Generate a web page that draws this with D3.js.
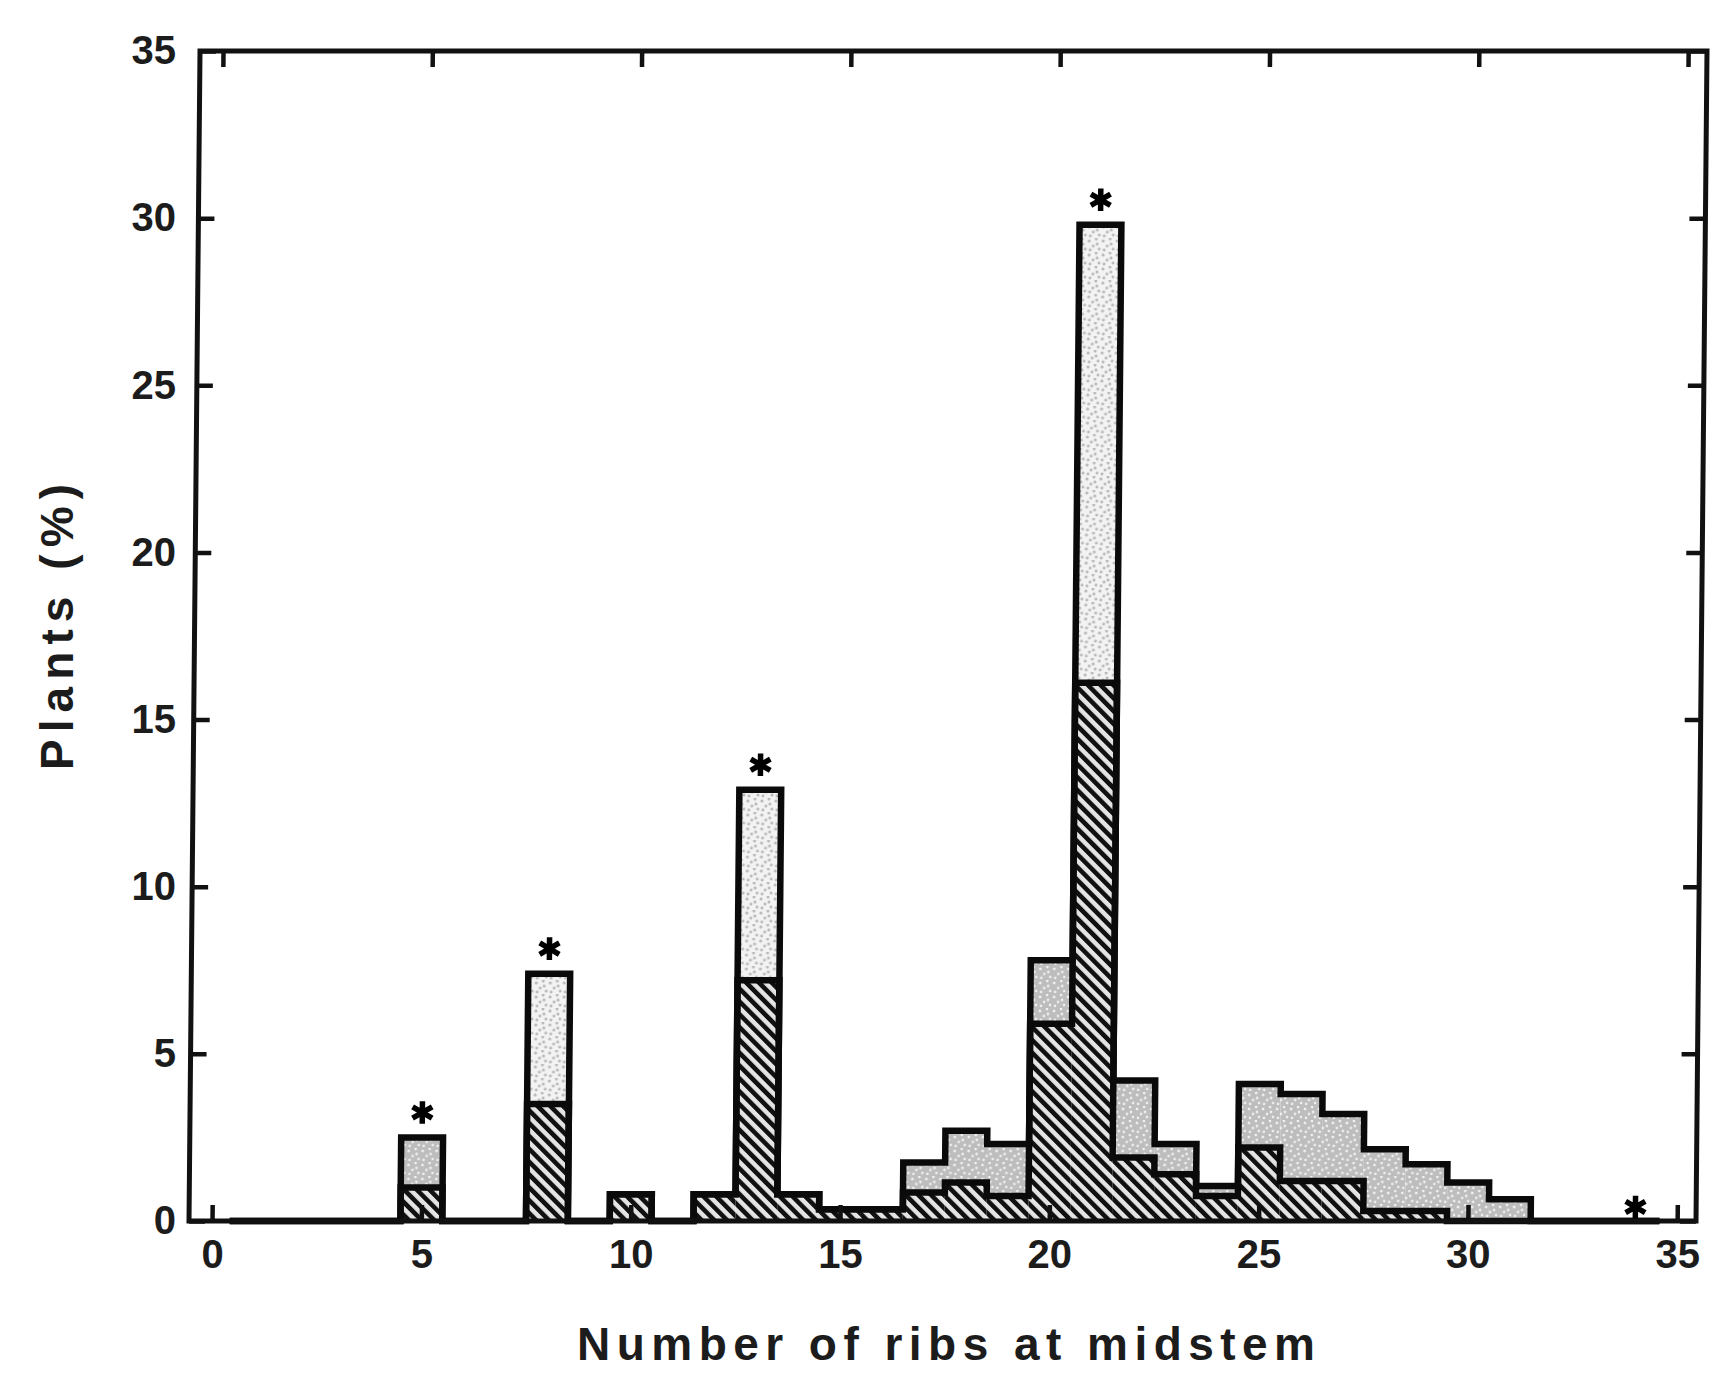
<!DOCTYPE html>
<html><head><meta charset="utf-8">
<script src="https://cdn.jsdelivr.net/npm/d3@7"></script>
<style>
body{margin:0;background:#fff;}
svg{display:block;}
text{font-family:"Liberation Sans",Arial,sans-serif;font-weight:bold;fill:#1c1c1c;}
</style></head><body>
<svg id="chart" width="1725" height="1377"></svg>
<script>
// ---- data ----
const ribCounts     = [5, 8, 10, 12, 13, 14, 15, 16, 17, 18, 19, 20, 21, 22, 23, 24, 25, 26, 27, 28, 29, 30, 31];
const totalPlants   = [2.5, 7.4, 0.8, 0.8, 12.9, 0.8, 0.35, 0.35, 1.75, 2.7, 2.3, 7.8, 29.8, 4.2, 2.3, 1.05, 4.1, 3.8, 3.2, 2.15, 1.7, 1.15, 0.65];
const hatchedPlants = [1.0, 3.5, 0.8, 0.8, 7.2, 0.8, 0.35, 0.35, 0.85, 1.15, 0.75, 5.9, 16.1, 1.9, 1.4, 0.75, 2.2, 1.2, 1.2, 0.3, 0.3, 0, 0];
const starredRibs   = [5, 8, 13, 21, 34];
const xTickValues   = [0, 5, 10, 15, 20, 25, 30, 35];
const yTickValues   = [0, 5, 10, 15, 20, 25, 30, 35];
const xTitle = "Number of ribs at midstem";
const yTitle = "Plants (%)";

// ---- layout ----
const svg = d3.select("#chart");
const x = d3.scaleLinear().domain([-0.55, 35.45]).range([189, 1696]);
const y = d3.scaleLinear().domain([0, 35]).range([1221, 51]);
const skewDeg = Math.atan(11 / 1170) * 180 / Math.PI;

const defs = svg.append("defs");
// diagonal hatch
const hp = defs.append("pattern").attr("id", "hatch").attr("patternUnits", "userSpaceOnUse")
  .attr("width", 9).attr("height", 9).attr("patternTransform", "rotate(-45)");
hp.append("rect").attr("width", 9).attr("height", 9).attr("fill", "#e4e4e4");
hp.append("rect").attr("width", 4.6).attr("height", 9).attr("fill", "#111");
// gray stipple
const sp = defs.append("pattern").attr("id", "stipple").attr("patternUnits", "userSpaceOnUse")
  .attr("width", 14).attr("height", 14);
sp.append("rect").attr("width", 14).attr("height", 14).attr("fill", "#bdbdbd");
[[2,3],[9,1],[6,8],[12,11],[3,12],[10,6]].forEach(([a,b]) =>
  sp.append("circle").attr("cx", a).attr("cy", b).attr("r", 1.3).attr("fill", "#f4f4f4"));
// light stipple
const lp = defs.append("pattern").attr("id", "lightStipple").attr("patternUnits", "userSpaceOnUse")
  .attr("width", 14).attr("height", 14);
lp.append("rect").attr("width", 14).attr("height", 14).attr("fill", "#f3f3f3");
[[2,3],[9,1],[6,8],[12,11],[3,12],[10,6]].forEach(([a,b]) =>
  lp.append("circle").attr("cx", a).attr("cy", b).attr("r", 1.5).attr("fill", "#b8b8b8"));

const bins = ribCounts.map((n, i) => ({n, total: totalPlants[i], hatched: hatchedPlants[i]}));

const plot = svg.append("g")
  .attr("transform", `translate(0,${y(0)}) skewX(${-skewDeg}) translate(0,${-y(0)})`);

// fills
plot.selectAll("rect.hatched").data(bins).join("rect").attr("class", "hatched")
  .attr("x", d => x(d.n - 0.5)).attr("width", d => x(d.n + 0.5) - x(d.n - 0.5))
  .attr("y", d => y(d.hatched)).attr("height", d => y(0) - y(d.hatched))
  .attr("fill", "url(#hatch)");
plot.selectAll("rect.upper").data(bins).join("rect").attr("class", "upper")
  .attr("x", d => x(d.n - 0.5)).attr("width", d => x(d.n + 0.5) - x(d.n - 0.5))
  .attr("y", d => y(d.total)).attr("height", d => y(d.hatched) - y(d.total))
  .attr("fill", d => starredRibs.includes(d.n) && d.total > 5 ? "url(#lightStipple)" : "url(#stipple)");

// step outlines
function stepPoints(key) {
  const pts = [];
  for (let n = 1; n <= 34; n++) {
    const b = bins.find(d => d.n === n);
    const v = b ? b[key] : 0;
    pts.push([n - 0.5, v], [n + 0.5, v]);
  }
  return pts;
}
const line = d3.line().x(d => x(d[0])).y(d => y(d[1]));
["hatched", "total"].forEach(k => {
  plot.append("path").attr("d", line(stepPoints(k)))
    .attr("fill", "none").attr("stroke", "#0a0a0a").attr("stroke-width", 6.5)
    .attr("stroke-linejoin", "miter").attr("stroke-linecap", "square");
});

// frame & inward ticks
plot.append("rect").attr("x", x.range()[0]).attr("y", y.range()[1])
  .attr("width", x.range()[1] - x.range()[0]).attr("height", y.range()[0] - y.range()[1])
  .attr("fill", "none").attr("stroke", "#111").attr("stroke-width", 5);
function tickStyle(g) {
  g.select(".domain").remove();
  g.selectAll(".tick line").attr("stroke", "#111").attr("stroke-width", 4.5);
}
plot.append("g").attr("transform", `translate(0,${y(0)})`)
  .call(d3.axisBottom(x).tickValues(xTickValues).tickSize(-16).tickFormat("")).call(tickStyle);
plot.append("g").attr("transform", `translate(0,${y(35)})`)
  .call(d3.axisTop(x).tickValues(xTickValues).tickSize(-16).tickFormat("")).call(tickStyle);
plot.append("g").attr("transform", `translate(${x.range()[0]},0)`)
  .call(d3.axisLeft(y).tickValues(yTickValues).tickSize(-16).tickFormat("")).call(tickStyle);
plot.append("g").attr("transform", `translate(${x.range()[1]},0)`)
  .call(d3.axisRight(y).tickValues(yTickValues).tickSize(-16).tickFormat("")).call(tickStyle);

// asterisks
const star = d3.symbol().type(d3.symbolAsterisk).size(360);
plot.selectAll("path.star").data(starredRibs).join("path").attr("class", "star")
  .attr("d", star)
  .attr("transform", n => {
    const b = bins.find(d => d.n === n);
    const t = b ? b.total : 0;
    return `translate(${x(n)},${y(t) - (t > 0 ? 25 : 14)})`;
  })
  .attr("fill", "none").attr("stroke", "#000").attr("stroke-width", 5.5);

// tick labels
function labelStyle(g) {
  g.select(".domain").remove();
  g.selectAll(".tick line").remove();
  g.selectAll(".tick text").style("font-size", "40px").style("font-family", "'Liberation Sans',Arial,sans-serif")
    .style("font-weight", "bold").attr("fill", "#1c1c1c");
}
svg.append("g").attr("transform", `translate(0,${y(0)})`)
  .call(d3.axisBottom(x).tickValues(xTickValues).tickSize(0).tickPadding(19)).call(labelStyle);
svg.append("g").attr("transform", `translate(${x.range()[0]},0)`)
  .call(d3.axisLeft(y).tickValues(yTickValues).tickSize(0).tickPadding(13)).call(labelStyle);

// titles
svg.append("text").attr("x", 946).attr("y", 1344).attr("text-anchor", "middle")
  .attr("dominant-baseline", "central").style("font-size", "46px")
  .attr("textLength", 738).attr("lengthAdjust", "spacing").text(xTitle);
svg.append("text").attr("transform", "translate(57,627) rotate(-90)").attr("text-anchor", "middle")
  .attr("dominant-baseline", "central").style("font-size", "46px")
  .attr("textLength", 286).attr("lengthAdjust", "spacing").text(yTitle);
</script>
</body></html>
